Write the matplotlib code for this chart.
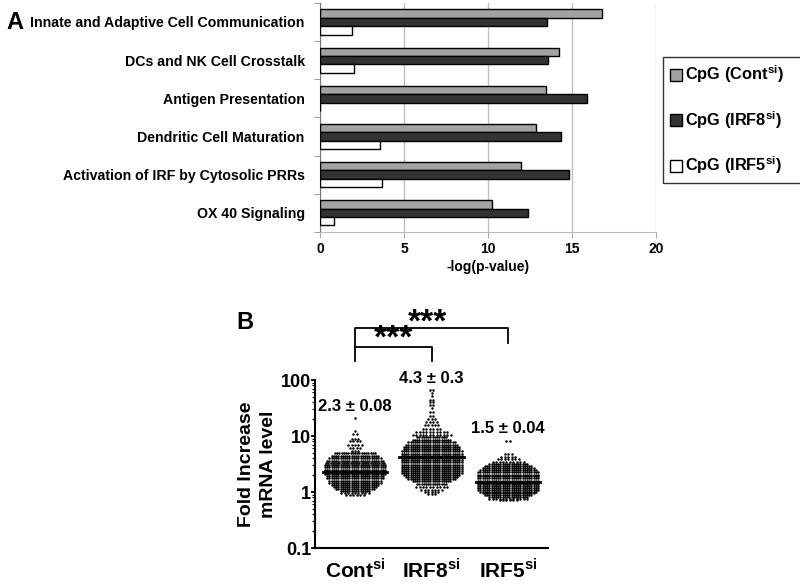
import numpy as np
import matplotlib
matplotlib.use("Agg")
import matplotlib.pyplot as plt
from matplotlib.patches import Patch

plt.rcParams['font.family'] = ['Liberation Sans', 'DejaVu Sans']
plt.rcParams['font.weight'] = 'bold'
plt.rcParams['mathtext.fontset'] = 'custom'
plt.rcParams['mathtext.bf'] = 'Liberation Sans:bold'
plt.rcParams['mathtext.rm'] = 'Liberation Sans:bold'

#---------Panel A data-----------
pathways = ["Innate and Adaptive Cell Communication", "DCs and NK Cell Crosstalk",
            "Antigen Presentation", "Dendritic Cell Maturation",
            "Activation of IRF by Cytosolic PRRs", "OX 40 Signaling"]
cont_p = [16.8, 14.2, 13.45, 12.85, 11.95, 10.25]
irf8_p = [13.5, 13.6, 15.9, 14.35, 14.85, 12.4]
irf5_p = [1.9, 2.0, 0.0, 3.6, 3.7, 0.85]
series_labels = [r"CpG (Cont$^{\mathbf{si}}$)", r"CpG (IRF8$^{\mathbf{si}}$)", r"CpG (IRF5$^{\mathbf{si}}$)"]

#---------Panel B data (rows of the scatter: value level, number of cells)-----------
groups = [r"Cont$^{\mathbf{si}}$", r"IRF8$^{\mathbf{si}}$", r"IRF5$^{\mathbf{si}}$"]
cont_levels = [21, 12.5, 11, 9, 8, 7, 6.2, 5.5, 4.9, 4.4, 4.0, 3.6, 3.3, 3.0, 2.75, 2.5,
               2.3, 2.1, 1.9, 1.75, 1.6, 1.45, 1.35, 1.25, 1.15, 1.05, 0.97, 0.88]
cont_counts = [1, 1, 2, 3, 4, 5, 4, 3, 19, 22, 24, 26, 27, 28, 28, 28,
               28, 28, 26, 26, 24, 24, 22, 20, 18, 14, 9, 6]
irf8_levels = [65, 58, 52, 44, 40, 36, 32, 27, 23, 20.5, 18, 15.5, 13.5, 12, 10.5, 9.5,
               8.5, 7.7, 7.0, 6.4, 5.8, 5.3, 4.8, 4.4, 4.0, 3.7, 3.4, 3.1, 2.85, 2.6,
               2.4, 2.2, 2.0, 1.85, 1.7, 1.55, 1.4, 1.25, 1.1, 1.0, 0.92]
irf8_counts = [2, 1, 1, 2, 2, 2, 1, 2, 2, 3, 4, 5, 6, 10, 12, 14,
               18, 22, 24, 26, 26, 28, 28, 28, 28, 28, 28, 28, 28, 28,
               28, 28, 26, 24, 22, 18, 14, 10, 7, 5, 3]
irf5_levels = [8.2, 4.8, 4.3, 3.9, 3.5, 3.2, 2.9, 2.65, 2.45, 2.25, 2.05, 1.9, 1.75,
               1.6, 1.5, 1.4, 1.3, 1.2, 1.1, 1.02, 0.95, 0.88, 0.82, 0.76, 0.72]
irf5_counts = [2, 3, 5, 7, 10, 18, 22, 24, 26, 28, 28, 28, 28,
               28, 28, 28, 28, 28, 28, 26, 24, 22, 18, 12, 6]
means = [2.3, 4.3, 1.5]
mean_text = [u"2.3 \u00b1 0.08", u"4.3 \u00b1 0.3", u"1.5 \u00b1 0.04"]

fig = plt.figure(figsize=(8, 5.84), dpi=100)

#-----------------Panel A: horizontal bars--------------------
ax1 = fig.add_axes([0.4, 0.603, 0.42, 0.392])
y = np.arange(len(pathways))
h = 0.22
ax1.barh(y - h, cont_p, height=h, color='#a3a3a3', edgecolor='black', linewidth=1, zorder=3)
ax1.barh(y, irf8_p, height=h, color='#333333', edgecolor='black', linewidth=1, zorder=3)
ax1.barh(y + h, irf5_p, height=h, color='white', edgecolor='black', linewidth=1, zorder=3)
ax1.set_xlim(0, 20)
ax1.set_ylim(len(pathways) - 0.5, -0.5)
ax1.set_xticks([0, 5, 10, 15, 20])
ax1.xaxis.grid(True, color='#c0c0c0', linewidth=1)
ax1.set_axisbelow(True)
ax1.set_yticks(y)
ax1.set_yticklabels(pathways, fontsize=10.2, fontweight='bold')
ax1.set_yticks(np.arange(len(pathways) + 1) - 0.5, minor=True)
ax1.tick_params(axis='y', which='major', length=0, pad=11)
ax1.tick_params(axis='y', which='minor', length=4, color='#888888')
ax1.tick_params(axis='x', length=4, color='#aaaaaa', labelsize=10)
for lab in ax1.get_xticklabels():
    lab.set_fontweight('bold')
ax1.set_xlabel("-log(p-value)", fontsize=10, fontweight='bold', labelpad=3)
for s in ['top', 'right']:
    ax1.spines[s].set_visible(False)
ax1.spines['left'].set_color('#777777')
ax1.spines['bottom'].set_color('#bbbbbb')

handles = [Patch(facecolor=c, edgecolor='black') for c in ['#a3a3a3', '#333333', 'white']]
leg = fig.legend(handles, series_labels, loc='upper left',
                 bbox_to_anchor=(0.829, 0.0, 0.18, 0.902), mode='expand',
                 frameon=True, fancybox=False, edgecolor='black', fontsize=11.8,
                 labelspacing=1.45, handlelength=0.75, handleheight=0.75, handletextpad=0.2,
                 borderpad=0.4, borderaxespad=0)
leg.get_frame().set_linewidth(1)
fig.text(0.008, 0.962, "A", fontsize=17, fontweight='bold', va='center')

#-----------------Panel B: dot plot--------------------
ax2 = fig.add_axes([0.394, 0.0616, 0.291, 0.2877])
ax2.set_yscale('log')
ax2.set_ylim(0.1, 100)
ax2.set_xlim(-0.52, 2.52)
for i, (lev, cnt) in enumerate([(cont_levels, cont_counts), (irf8_levels, irf8_counts),
                                 (irf5_levels, irf5_counts)]):
    xs, ys = [], []
    for v, n in zip(lev, cnt):
        step = 0.029 if n > 12 else 0.045
        off = (np.arange(n) - (n - 1) / 2) * step
        xs.extend(i + off)
        ys.extend([v] * n)
    ax2.scatter(xs, ys, s=3.2, color='black', linewidths=0, zorder=3)
    ax2.plot([i - 0.42, i + 0.42], [means[i], means[i]], color='black', lw=2, zorder=4)
ax2.text(0, 25, mean_text[0], ha='center', va='bottom', fontsize=12, fontweight='bold')
ax2.text(1, 79, mean_text[1], ha='center', va='bottom', fontsize=12, fontweight='bold')
ax2.text(2, 10, mean_text[2], ha='center', va='bottom', fontsize=12, fontweight='bold')

# significance brackets
ax2.plot([0, 0, 1, 1], [218, 390, 390, 218], color='black', lw=1.3, clip_on=False)
ax2.plot([0, 0, 2, 2], [390, 850, 850, 457], color='black', lw=1.3, clip_on=False)
ax2.text(0.5, 372, "***", ha='center', va='baseline', fontsize=24, fontweight='bold')
ax2.text(0.95, 721, "***", ha='center', va='baseline', fontsize=24, fontweight='bold')

ax2.set_xticks([0, 1, 2])
ax2.set_xticklabels(groups, fontsize=15, fontweight='bold')
ax2.tick_params(axis='x', length=0, pad=7)
ax2.set_yticks([0.1, 1, 10, 100])
ax2.set_yticklabels(["0.1", "1", "10", "100"], fontsize=13, fontweight='bold')
ax2.tick_params(axis='y', which='major', length=3, width=1.3, pad=0)
ax2.tick_params(axis='y', which='minor', length=2.5, width=0.8)
ax2.set_ylabel("Fold Increase\nmRNA level", fontsize=14, fontweight='bold', labelpad=3,
               linespacing=1.35)
for s in ['top', 'right']:
    ax2.spines[s].set_visible(False)
for s in ['left', 'bottom']:
    ax2.spines[s].set_linewidth(1.5)
fig.text(0.296, 0.447, "B", fontsize=17, fontweight='bold', va='center')

plt.savefig("out.png", dpi=100)
